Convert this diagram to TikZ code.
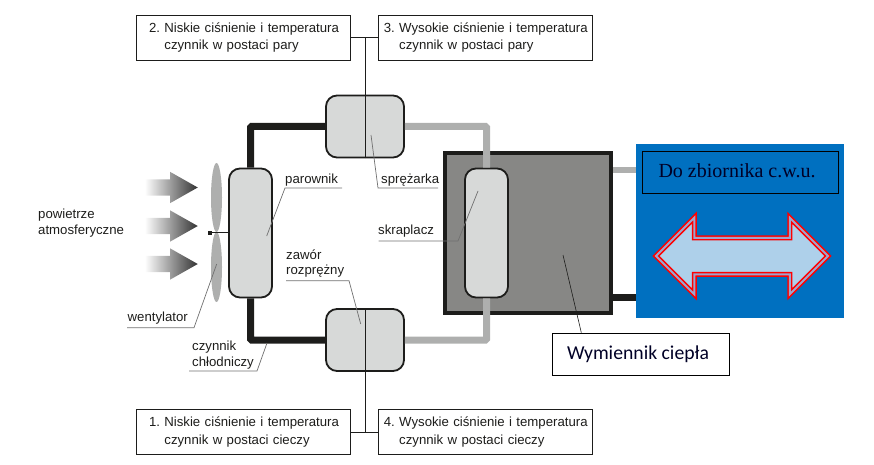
\documentclass[tikz,border=0pt]{standalone}
\usepackage{fontspec}
\usepackage{xcolor}
\usetikzlibrary{positioning,calc,shapes.geometric,shapes.arrows}
\setmainfont{Liberation Sans}[WordSpace=0.85]
\newfontfamily\titleface{Liberation Serif}
\newfontfamily\calloutface{Carlito}
\definecolor{PipeDark}{HTML}{1D1D1B}
\definecolor{PipeLight}{HTML}{AEAFAE}
\definecolor{UnitFill}{HTML}{D7D9D8}
\definecolor{HexFill}{HTML}{878785}
\definecolor{TankBlue}{HTML}{0070C0}
\definecolor{ArrowFill}{HTML}{AED0EA}
\definecolor{ArrowGap}{HTML}{A0A4CC}
\definecolor{LeaderGray}{HTML}{707070}
\newcommand{\statelines}[4]{\hspace*{#1}#2 #3\\\hspace*{#1}\phantom{#2 }#4}
\frenchspacing

\begin{document}
\begin{tikzpicture}[
  x=1pt, y=-1pt,
  node distance=27pt,
  statebox/.style={draw=PipeDark, line width=0.8pt, fill=white, minimum height=45pt,
    inner xsep=0pt, inner ysep=0pt, text width=214pt, align=left, text=PipeDark,
    font=\fontsize{13.2}{17.3}\selectfont},
  unit/.style={draw=PipeDark, line width=1.8pt, fill=UnitFill, rounded corners=11pt, inner sep=0pt},
  hunit/.style={unit, minimum width=78pt, minimum height=62pt},
  vunit/.style={unit, minimum width=43pt, minimum height=129pt},
  darkpipe/.style={draw=PipeDark, line width=7pt, rounded corners=1pt},
  lightpipe/.style={draw=PipeLight, line width=7pt, rounded corners=1pt},
  tag/.style={inner sep=0pt, anchor=south west, align=left, text=PipeDark,
    font=\fontsize{13.2}{15.5}\selectfont},
  leader/.style={draw=LeaderGray, line width=0.7pt},
  blade/.style={ellipse, fill=PipeLight, minimum width=11pt, inner sep=0pt},
  airarrow/.style={single arrow, draw=none, inner xsep=0pt, inner ysep=8pt, minimum height=53pt,
    single arrow head extend=7.5pt, single arrow tip angle=59, shading=axis, left color=white,
    middle color=black!42, right color=black!80}
]
\useasboundingbox (0,0) rectangle (874,465);

% heat exchanger and tank
\node[draw=PipeDark, line width=4pt, fill=HexFill, minimum width=166pt, minimum height=160pt, inner sep=0pt] (hex) at (528,233) {};
\node[fill=TankBlue, minimum width=208pt, minimum height=174pt, inner sep=0pt] (tank) at (740,231) {};
\node[draw=black, line width=0.7pt, minimum width=196pt, minimum height=42pt, inner sep=0pt] (tanklabel) at (740,172) {};
\node[text=black!85!blue, inner sep=0pt, font=\titleface\fontsize{20}{22}\selectfont] (tanktext) at (737,171) {Do zbiornika c.w.u.};
\node[double arrow, draw=red, line width=1.5pt, double=ArrowGap, double distance=2pt, fill=ArrowFill,
  minimum height=172pt, inner xsep=0pt, inner ysep=17.5pt, double arrow head extend=20pt, double arrow tip angle=90] (flow) at (742,256) {};

% main units
\node[hunit] (comp) at (365,126.5) {};
\node[hunit] (valve) at (365,340) {};
\node[vunit] (evap) at (250.5,233) {};
\node[vunit] (cond) at (486.5,233) {};

% refrigerant loop
\draw[darkpipe] (evap.north) |- (comp.west);
\draw[darkpipe] (evap.south) |- (valve.west);
\draw[lightpipe] (comp.east) -| (cond.north);
\draw[lightpipe] (valve.east) -| (cond.south);
\coordinate (hotout) at (hex.east |- 0,170);
\coordinate (coldin) at (hex.east |- 0,297);
\draw[draw=PipeLight, line width=6pt] (hotout) -- (hotout -| tank.west);
\draw[draw=PipeDark, line width=7pt] (coldin) -- (coldin -| tank.west);

% fan
\node[blade, minimum height=69pt] (bladeup) at (216.5,197.5) {};
\node[blade, minimum height=70pt] (bladedown) at (216.5,267) {};
\node[fill=PipeDark, minimum size=4pt, inner sep=0pt] (hub) at (210,232.5) {};
\draw[draw=PipeDark, line width=1.4pt] (hub) -- (hub -| evap.west);

% air stream
\foreach \name/\ypos in {air1/187.5,air2/226,air3/264}
  \node[airarrow] (\name) at (164,\ypos) {};

% state boxes
\node[statebox] (state2) at (243.5,37.5) {\statelines{12.5pt}{2.}{Niskie ciśnienie i temperatura}{czynnik w postaci pary}};
\node[statebox, right=of state2] (state3) {\statelines{5.5pt}{3.}{Wysokie ciśnienie i temperatura}{czynnik w postaci pary}};
\node[statebox] (state1) at (243.5,432) {\statelines{12.5pt}{1.}{Niskie ciśnienie i temperatura}{czynnik w postaci cieczy}};
\node[statebox, right=of state1] (state4) {\statelines{5.5pt}{4.}{Wysokie ciśnienie i temperatura}{czynnik w postaci cieczy}};
\draw[draw=PipeDark, line width=0.7pt] (state2) -- (state3);
\draw[draw=PipeDark, line width=0.7pt] (state1) -- (state4);
\draw[draw=PipeDark, line width=0.7pt] (comp.south) -- (comp.south |- state2.east);
\draw[draw=PipeDark, line width=0.7pt] (valve.north) -- (valve.north |- state1.east);

% labels with leaders
\node[tag] (airtag) at (38,237) {powietrze\\atmosferyczne};
\node[tag] (evaptag) at (285,186) {parownik};
\node[tag] (comptag) at (381,186) {sprężarka};
\node[tag] (condtag) at (378,237) {skraplacz};
\node[tag] (valvetag) at (286,277.5) {zawór\\rozprężny};
\node[tag] (fantag) at (127.5,324) {wentylator};
\node[tag] (fluidtag) at (192,369) {czynnik\\chłodniczy};

\coordinate (evapend) at (266.7,236);
\coordinate (compend) at (371,135);
\coordinate (condend) at (478,191);
\coordinate (valveend) at (360.7,324);
\coordinate (fanend) at (216.7,264);
\coordinate (fluidend) at (267,343);
\coordinate (hexend) at (563,255);

\draw[leader] (342,188) -- (285,188) -- (evapend);
\draw[leader] (438,188) -- (378,188) -- (compend);
\draw[leader] (378.5,241) -- (458,241) -- (condend);
\draw[leader] (286,280.7) -- (349,280.7) -- (valveend);
\draw[leader] (127,327.7) -- (194,327.7) -- (fanend);
\draw[leader] (189,371) -- (257,371) -- (fluidend);

% exchanger callout
\node[draw=black, line width=0.8pt, fill=white, minimum width=177pt, minimum height=42pt, inner sep=0pt,
  text=black!85!blue, font=\calloutface\fontsize{19.7}{22}\selectfont] (hexbox) at (640.5,354) {\hspace*{-5pt}Wymiennik ciepła};
\draw[draw=PipeDark, line width=0.6pt] (hexend) -- ($(hexbox.north west)+(29.7,0)$);
\end{tikzpicture}
\end{document}
